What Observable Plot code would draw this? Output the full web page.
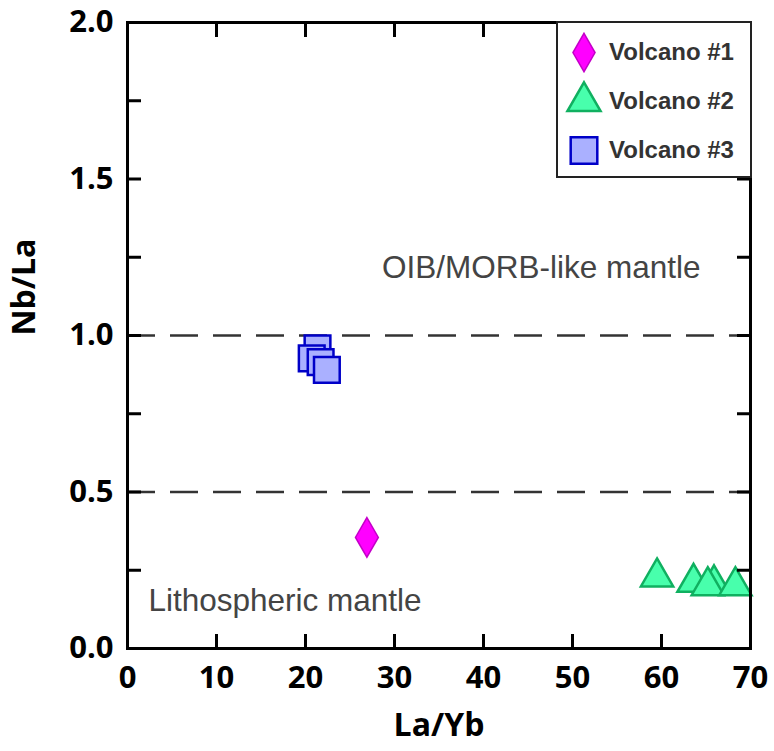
<!DOCTYPE html>
<html><head><meta charset="utf-8">
<script src="https://cdn.jsdelivr.net/npm/d3@7"></script>
<script src="https://cdn.jsdelivr.net/npm/@observablehq/plot@0.6"></script>
<style>
body{margin:0;background:#fff;}
#wrap{position:relative;width:774px;height:751px;}
#legend{position:absolute;left:556px;top:21px;width:196px;height:157px;box-sizing:border-box;border:2.5px solid #222;background:#fff;}
#legend svg{display:block;}
</style></head><body><div id="wrap"><div id="chart"></div><div id="legend"></div></div>
<script>
// ---- data ----
const seriesNames = ["Volcano #1", "Volcano #2", "Volcano #3"];
const v1X = [26.9];
const v1Y = [0.355];
const v2X = [59.5, 63.6, 65.9, 65.2, 68.3];
const v2Y = [0.228, 0.211, 0.206, 0.200, 0.200];
const v3X = [21.35, 20.7, 21.7, 22.4];
const v3Y = [0.959, 0.927, 0.915, 0.890];
const xTicks = [0, 10, 20, 30, 40, 50, 60, 70];
const yTicks = [0, 0.25, 0.5, 0.75, 1.0, 1.25, 1.5, 1.75, 2.0];
const yLabelTicks = [0, 0.5, 1.0, 1.5, 2.0];
const boundaries = [0.5, 1.0];
const annoText = ["OIB/MORB-like mantle", "Lithospheric mantle"];
const annoX = [46.5, 17.7];
const annoY = [1.215, 0.153];
const xLabel = "La/Yb";
const yLabel = "Nb/La";

// ---- styles ----
const styles = {
  "Volcano #1": {symbol: "diamond", r: 12, fill: "#ff00ff", stroke: "#c400c8", strokeWidth: 1.5},
  "Volcano #2": {symbol: "triangle", r: 12, fill: "#48ffac", stroke: "#10b060", strokeWidth: 2.5},
  "Volcano #3": {symbol: "square", r: 14.5, fill: "#aab0ff", stroke: "#0000c8", strokeWidth: 2.5}
};
const series = [[v1X, v1Y], [v2X, v2Y], [v3X, v3Y]];

const boldFont = "'Open Sans', Lato, sans-serif";
const tickFont = {fontSize: 31, fontWeight: "bold", fontFamily: boldFont, fill: "#000"};

const dotMarks = series.map(([xs, ys], k) =>
  Plot.dot(d3.range(xs.length), {x: i => xs[i], y: i => ys[i], ...styles[seriesNames[k]]}));

const chart = Plot.plot({
  width: 774, height: 751,
  marginLeft: 127, marginRight: 24, marginTop: 22, marginBottom: 103,
  x: {domain: [0, 70]},
  y: {domain: [0, 2]},
  style: {background: "#fff"},
  marks: [
    Plot.ruleY(boundaries, {stroke: "#333", strokeWidth: 2.5, strokeDasharray: "28,15"}),
    Plot.text(annoText, {x: (d, i) => annoX[i], y: (d, i) => annoY[i], text: d => d,
      textAnchor: "middle",
      fontSize: 31.5, fontFamily: "'Liberation Sans', Arial, sans-serif", fill: "#444"}),
    ...dotMarks,
    Plot.axisX(xTicks, {anchor: "bottom", tickSize: -14, strokeWidth: 3, tickFormat: () => "", label: null}),
    Plot.axisX(xTicks, {anchor: "top", tickSize: -14, strokeWidth: 3, tickFormat: () => "", label: null}),
    Plot.axisY(yTicks, {anchor: "left", tickSize: -14, strokeWidth: 3, tickFormat: () => "", label: null}),
    Plot.axisY(yTicks, {anchor: "right", tickSize: -14, strokeWidth: 3, tickFormat: () => "", label: null}),
    Plot.axisX(xTicks, {anchor: "bottom", tickSize: 0, tickPadding: 17, ...tickFont, label: null}),
    Plot.axisY(yLabelTicks, {anchor: "left", tickSize: 0, tickPadding: 14, tickFormat: d3.format(".1f"), ...tickFont, label: null}),
    Plot.frame({stroke: "#000", strokeWidth: 3}),
    Plot.text([xLabel], {frameAnchor: "bottom", dy: 87, text: d => d, fontSize: 32, fontWeight: "bold", fontFamily: boldFont, fill: "#000"}),
    Plot.text([yLabel], {frameAnchor: "left", dx: -103, rotate: -90, text: d => d, fontSize: 32, fontWeight: "bold", fontFamily: boldFont, fill: "#000"})
  ]
});
document.getElementById("chart").appendChild(chart);

// ---- legend ----
const legend = Plot.plot({
  width: 191, height: 152,
  margin: 0,
  x: {axis: null, domain: [0, 1]},
  y: {axis: null, type: "point", padding: 0, domain: seriesNames, range: [28.5, 127]},
  marks: [
    ...seriesNames.map(name => Plot.dot([name], {y: d => d, frameAnchor: "left", dx: 25.5,
      ...styles[name], r: name === "Volcano #1" ? 11.6 : name === "Volcano #2" ? 12.3 : 15})),
    Plot.text(seriesNames, {y: d => d, frameAnchor: "left", dx: 50.5, text: d => d, textAnchor: "start",
      fontSize: 24, fontWeight: "bold", fontFamily: "'Liberation Sans', Arial, sans-serif", fill: "#333"})
  ]
});
document.getElementById("legend").appendChild(legend);
</script>
</body></html>
